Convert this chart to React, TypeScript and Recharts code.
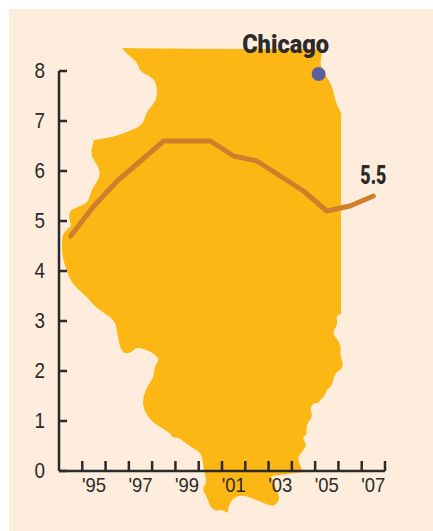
import { Line, LineChart, ReferenceDot, XAxis, YAxis } from 'recharts'

const years = [1994, 1995, 1996, 1997, 1998, 1999, 2000, 2001, 2002, 2003, 2004, 2005, 2006, 2007]
const rates = [4.7, 5.3, 5.8, 6.2, 6.6, 6.6, 6.6, 6.3, 6.2, 5.9, 5.6, 5.2, 5.3, 5.5]
const yTicks = [0, 1, 2, 3, 4, 5, 6, 7, 8]
const xBoundaries = [1994.5, 1995.5, 1996.5, 1997.5, 1998.5, 1999.5, 2000.5, 2001.5, 2002.5, 2003.5, 2004.5, 2005.5, 2006.5, 2007.5]
const labelledYears = [1995, 1997, 1999, 2001, 2003, 2005, 2007]
const chicago = { year: 2004.65, value: 7.94, name: 'Chicago' }

const data = years.map((year, i) => ({ year, rate: rates[i] }))

const W = 433
const H = 531
const yearWidth = 326 / 14
const ink = '#2b2a2b'

// state outline, only a backdrop for the chart. Doubled points keep a sharp corner.
const outline = [
  [122, 48], [122, 48], [216, 49], [322, 49], [322, 49], [322, 55], [320, 63], [323, 72], [332, 85], [336, 103], [341, 113], [341, 113],
  [341, 314], [341, 314], [336, 316], [338, 324], [332, 333], [338, 340], [341, 347], [340, 355], [343, 363], [342, 369], [335, 373],
  [332, 386], [327, 389], [325, 396], [320, 400], [319, 403], [313, 403], [310, 410], [313, 416], [306, 425], [307, 435], [302, 437],
  [307, 445], [302, 452], [298, 457], [299, 463], [303, 472], [303, 472], [271, 476], [271, 476], [279, 495], [279, 501], [273, 507], [259, 501], [244, 495],
  [234, 497], [228, 507], [228, 514], [223, 510], [219, 510], [216, 511], [210, 507], [207, 497], [202, 489], [207, 482], [204, 472],
  [202, 453], [192, 448], [178, 437], [173, 438], [170, 433], [160, 427], [150, 420], [143, 408], [143, 397], [148, 385], [154, 377],
  [154, 367], [160, 359], [150, 351], [137, 347], [132, 352], [125, 354], [120, 348], [117, 332], [115, 320], [95, 307], [88, 298],
  [73, 285], [67, 272], [62, 255], [62, 240], [63, 233], [71, 226], [71, 226], [68, 212], [77, 207], [88, 203], [92, 188], [100, 178], [99, 167],
  [90, 155], [94, 140], [94, 140], [113, 137], [127, 132], [143, 125], [146, 112], [157, 100], [157, 85], [152, 77], [140, 72], [137, 62], [128, 55],
]

const mid = (a: number[], b: number[]) => `${(a[0] + b[0]) / 2},${(a[1] + b[1]) / 2}`
const illinois =
  `M${mid(outline[outline.length - 1], outline[0])} ` +
  outline.map((p, i) => `Q${p[0]},${p[1]} ${mid(p, outline[(i + 1) % outline.length])}`).join(' ') +
  ' Z'

function YTick({ x, y, payload }: any) {
  return (
    <g>
      <line x1={x} x2={x + 8} y1={y} y2={y} stroke={ink} strokeWidth={2.5} />
      <text x={x - 14} y={y + 6.5} textAnchor='end' fontSize={22} fontFamily='Liberation Sans' fill={ink} textLength={10.5} lengthAdjust='spacingAndGlyphs'>
        {payload.value}
      </text>
    </g>
  )
}

function XTick({ x, y, payload }: any) {
  const year = payload.value + 0.5
  const shown = labelledYears.includes(year)
  return (
    <g>
      <line x1={x} x2={x} y1={y} y2={y - 10} stroke={ink} strokeWidth={2.5} />
      {shown && (
        <text x={x + yearWidth / 2} y={y + 20.5} textAnchor='middle' fontSize={21} fontFamily='Liberation Sans' fill={ink} textLength={24} lengthAdjust='spacingAndGlyphs'>
          {`'${String(year).slice(2)}`}
        </text>
      )}
    </g>
  )
}

function BoldText({ viewBox, text, dx, dy, length, size }: any) {
  return (
    <text x={viewBox.x + viewBox.width / 2 + dx} y={viewBox.y + dy} textAnchor='middle' fontSize={size} fontWeight={900} fontFamily='Roboto' fill={ink} textLength={length} lengthAdjust='spacingAndGlyphs'>
      {text}
    </text>
  )
}

export default function App() {
  const axisLine = { stroke: ink, strokeWidth: 2.5 }
  return (
    <div style={{ position: 'absolute', left: 0, top: 0, width: W, height: H, background: '#fff', overflow: 'hidden' }}>
      <div style={{ position: 'absolute', left: 9, top: 9, right: 0, bottom: 0, background: '#feeddc' }} />
      <svg width={W} height={H} style={{ position: 'absolute', left: 0, top: 0 }}>
        <path d={illinois} fill='#fdb714' />
      </svg>
      <div style={{ position: 'absolute', left: 0, top: 0 }}>
        <LineChart width={W} height={H} data={data} margin={{ top: 71, right: 48, bottom: 0, left: 0 }}>
          <XAxis
            dataKey='year'
            type='number'
            domain={[1993.5, 2007.5]}
            ticks={xBoundaries}
            interval={0}
            height={60}
            axisLine={axisLine}
            tickLine={false}
            tickSize={0}
            tickMargin={0}
            tick={<XTick />}
          />
          <YAxis
            domain={[0, 8]}
            ticks={yTicks}
            interval={0}
            width={59}
            axisLine={axisLine}
            tickLine={false}
            tickSize={0}
            tickMargin={0}
            tick={<YTick />}
          />
          <Line
            dataKey='rate'
            stroke='#cf7f2b'
            strokeWidth={5}
            strokeLinecap='round'
            strokeLinejoin='round'
            dot={false}
            isAnimationActive={false}
          />
          <ReferenceDot
            x={chicago.year}
            y={chicago.value}
            r={7}
            fill='#5a5f9f'
            stroke='none'
            label={(props: any) => <BoldText {...props} text={chicago.name} dx={-33} dy={-14} length={87} size={26} />}
          />
          <ReferenceDot
            x={years[years.length - 1]}
            y={rates[rates.length - 1]}
            r={0}
            stroke='none'
            label={(props: any) => <BoldText {...props} text='5.5' dx={0} dy={-12} length={26} size={25} />}
          />
        </LineChart>
      </div>
    </div>
  )
}
